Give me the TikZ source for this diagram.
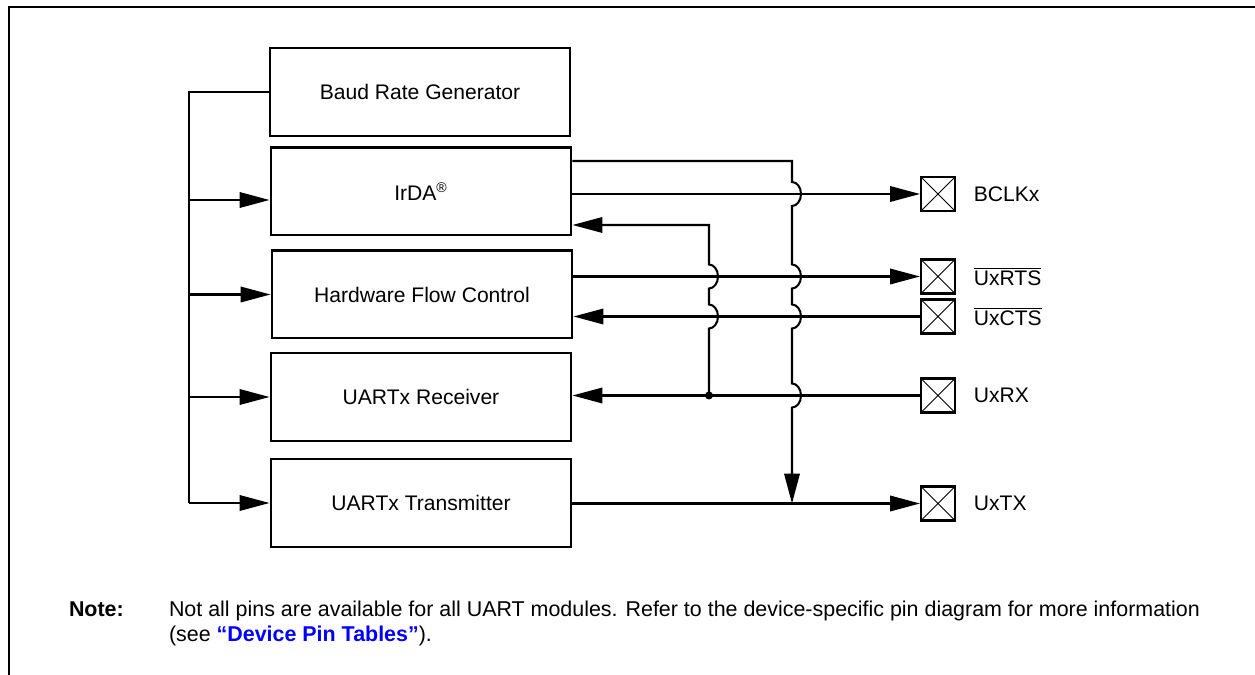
\documentclass[tikz,border=0pt]{standalone}
\usepackage{fontspec}
\setmainfont{Liberation Sans}
\usepackage{tikz}
\usetikzlibrary{arrows.meta,positioning,calc}
\definecolor{linkblue}{RGB}{0,0,255}
% a vertical wire that hops over the horizontal wire of a pin
\newcommand{\hopover}[2]{-- ($(#2.west -| #1)+(0,-12)$) arc[start angle=-90,end angle=90,x radius=9,y radius=12]}

\begin{document}
\begin{tikzpicture}[x=0.02cm,y=-0.02cm,line width=1.15pt,>={Triangle[length=0.6cm,width=0.31cm]},
    font=\fontsize{12}{14.4}\selectfont,
    block/.style={draw,minimum width=6.02cm,minimum height=1.76cm,inner sep=0pt},
    pin/.style={draw,minimum size=0.68cm,inner sep=0pt,
      path picture={\draw[line width=0.5pt]
        (path picture bounding box.north west) -- (path picture bounding box.south east)
        (path picture bounding box.south west) -- (path picture bounding box.north east);}},
    pinlabel/.style={right=0.22cm of #1},
    notetext/.style={anchor=base west,inner sep=0pt,font=\fontsize{12.2}{14.6}\selectfont}]
  \useasboundingbox (0,0) rectangle (1255,675);
  % ---------------- frame
  \draw[line width=1.2pt] (9,675) -- (9,7) -- (1255,7);
  % ---------------- blocks
  \node[block] (brg)  at (420,92)    {Baud Rate Generator};
  \node[block] (irda) at (421,191.5) {IrDA\textsuperscript{®}};
  \node[block] (hfc)  at (422,294.5) {Hardware Flow Control};
  \node[block] (rx)   at (421,397)   {UARTx Receiver};
  \node[block] (tx)   at (421,503)   {UARTx Transmitter};
  % ---------------- pins
  \node[pin] (bclk)  at (938,194)   {};
  \node[pin] (rts)   at (938,276.5) {};
  \node[pin] (cts)   at (938,316.5) {};
  \node[pin] (rxpin) at (938,395.5) {};
  \node[pin] (txpin) at (938,503.5) {};
  \node[pinlabel=bclk]  (bclklbl)  {BCLKx};
  \node[pinlabel=rts]   (rtslbl)   {$\overline{\mbox{UxRTS}}$};
  \node[pinlabel=cts]   (ctslbl)   {$\overline{\mbox{UxCTS}}$};
  \node[pinlabel=rxpin] (rxlbl)    {UxRX};
  \node[pinlabel=txpin] (txlbl)    {UxTX};
  % ---------------- clock bus on the left
  \draw (brg.west) -- ++(-80,0) coordinate (bus) -- (bus |- tx.west);
  \draw[->] ($(bus |- irda.west)+(0,8.5)$) -- ($(irda.west)+(0,8.5)$);
  \foreach \blk in {hfc,rx,tx}
    \draw[->] (bus |- \blk.west) -- (\blk.west);
  % ---------------- wires on the right
  \coordinate (vA) at (792,161);
  \coordinate (vB) at (709,225);
  \draw[->] (irda.east |- bclk.west) -- (bclk.west);
  \draw[->] (hfc.east |- rts.west) -- (rts.west);
  \draw[->] (cts.west) -- (hfc.east |- cts.west);
  \draw[->] (rxpin.west) -- (rx.east |- rxpin.west);
  \draw[->] (tx.east |- txpin.west) -- (txpin.west);
  \draw[->] ([yshift=0.61cm]irda.east) -- (vA) \hopover{vA}{bclk} \hopover{vA}{rts}
    \hopover{vA}{cts} \hopover{vA}{rxpin} -- (vA |- txpin.west);
  \coordinate (jn) at (vB |- rxpin.west);
  \draw[<-] ([yshift=-0.67cm]irda.east) -- (vB) \hopover{vB}{rts} \hopover{vB}{cts} -- (jn);
  \fill (jn) circle (4);
  % ---------------- note
  \node[notetext] (notehd) at (68,617) {\bfseries Note:};
  \node[notetext] (noteA) at (168,617)
    {Not all pins are available for all UART modules. Refer to the device-specific pin diagram for more information};
  \node[notetext] (noteB) at (168,642)
    {(see {\color{linkblue}\bfseries “Device Pin Tables”}).};
\end{tikzpicture}
\end{document}
